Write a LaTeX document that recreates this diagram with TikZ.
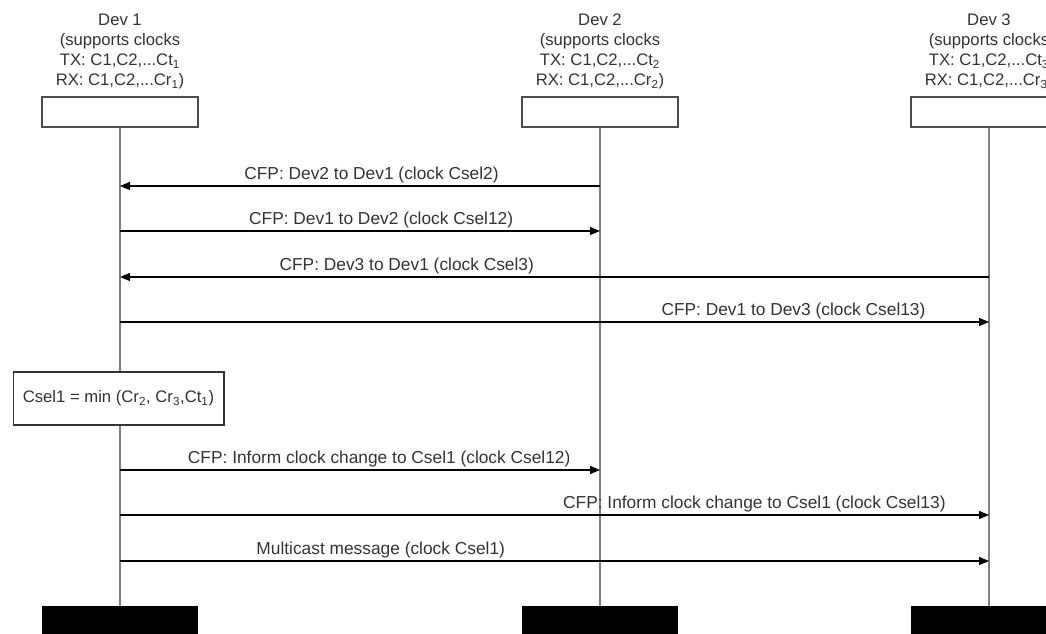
\documentclass[tikz,border=0pt]{standalone}
\usepackage{fontspec}
\setmainfont{Liberation Sans}
\usepackage{tikz}
\usetikzlibrary{
  positioning,
  arrows.meta
}

\begin{document}
\begin{tikzpicture}[
  x=0.75pt, y=-0.75pt,
  font=\fontsize{12.5}{15.2}\selectfont,
  devbox/.style={draw=black!70, line width=1pt, minimum width=117pt,
                 minimum height=22.5pt, inner sep=0pt},
  endbox/.style={fill=black, minimum width=117pt, minimum height=30pt,
                 inner sep=0pt},
  devlbl/.style={align=center, inner sep=0pt, text=black!80},
  lifeline/.style={draw=black!50, line width=1pt},
  msg/.style={-{Triangle[length=7.5pt, width=6pt]}, line width=0.9pt},
  msglbl/.style={above=1.5pt, inner sep=0pt, text=black!80,
                 font=\fontsize{13}{15}\selectfont},
  calcbox/.style={draw=black!80, fill=white, line width=1pt,
                  minimum width=158pt, minimum height=39.75pt,
                  inner sep=0pt, text=black!80}
]
  \useasboundingbox (0,0) rectangle (1046,634);

  % devices
  \node[devbox] (dev1) at (120,112) {};
  \node[devbox] (dev2) at (600,112) {};
  \node[devbox] (dev3) at (989,112) {};
  \node[devlbl, above=5pt of dev1] (dev1lbl)
    {Dev 1\\(supports clocks\\TX: C1,C2,...Ct\textsubscript{1}\\RX: C1,C2,...Cr\textsubscript{1})};
  \node[devlbl, above=5pt of dev2] (dev2lbl)
    {Dev 2\\(supports clocks\\TX: C1,C2,...Ct\textsubscript{2}\\RX: C1,C2,...Cr\textsubscript{2})};
  \node[devlbl, above=5pt of dev3] (dev3lbl)
    {Dev 3\\(supports clocks\\TX: C1,C2,...Ct\textsubscript{3}\\RX: C1,C2,...Cr\textsubscript{3})};
  \node[endbox] (dev1end) at (120,626) {};
  \node[endbox] (dev2end) at (600,626) {};
  \node[endbox] (dev3end) at (989,626) {};
  \draw[lifeline] (dev1) -- (dev1end);
  \draw[lifeline] (dev2) -- (dev2end);
  \draw[lifeline] (dev3) -- (dev3end);

  % message levels
  \coordinate (m1) at (0,186);
  \coordinate (m2) at (0,231);
  \coordinate (m3) at (0,277);
  \coordinate (m4) at (0,322);
  \coordinate (m5) at (0,470);
  \coordinate (m6) at (0,515);
  \coordinate (m7) at (0,561);

  \draw[msg] (dev2 |- m1) -- node[msglbl, pos=0.476] {CFP: Dev2 to Dev1 (clock Csel2)} (dev1 |- m1);
  \draw[msg] (dev1 |- m2) -- node[msglbl, pos=0.544] {CFP: Dev1 to Dev2 (clock Csel12)} (dev2 |- m2);
  \draw[msg] (dev3 |- m3) -- node[msglbl, pos=0.67] {CFP: Dev3 to Dev1 (clock Csel3)} (dev1 |- m3);
  \draw[msg] (dev1 |- m4) -- node[msglbl, pos=0.775] {CFP: Dev1 to Dev3 (clock Csel13)} (dev3 |- m4);

  \node[calcbox] (csel) at (118.5,398.5)
    {Csel1 = min (Cr\textsubscript{2}, Cr\textsubscript{3},Ct\textsubscript{1})};

  \draw[msg] (dev1 |- m5) -- node[msglbl, pos=0.54] {CFP: Inform clock change to Csel1 (clock Csel12)} (dev2 |- m5);
  \draw[msg] (dev1 |- m6) -- node[msglbl, pos=0.73] {CFP: Inform clock change to Csel1 (clock Csel13)} (dev3 |- m6);
  \draw[msg] (dev1 |- m7) -- node[msglbl, pos=0.3] {Multicast message (clock Csel1)} (dev3 |- m7);
\end{tikzpicture}
\end{document}
